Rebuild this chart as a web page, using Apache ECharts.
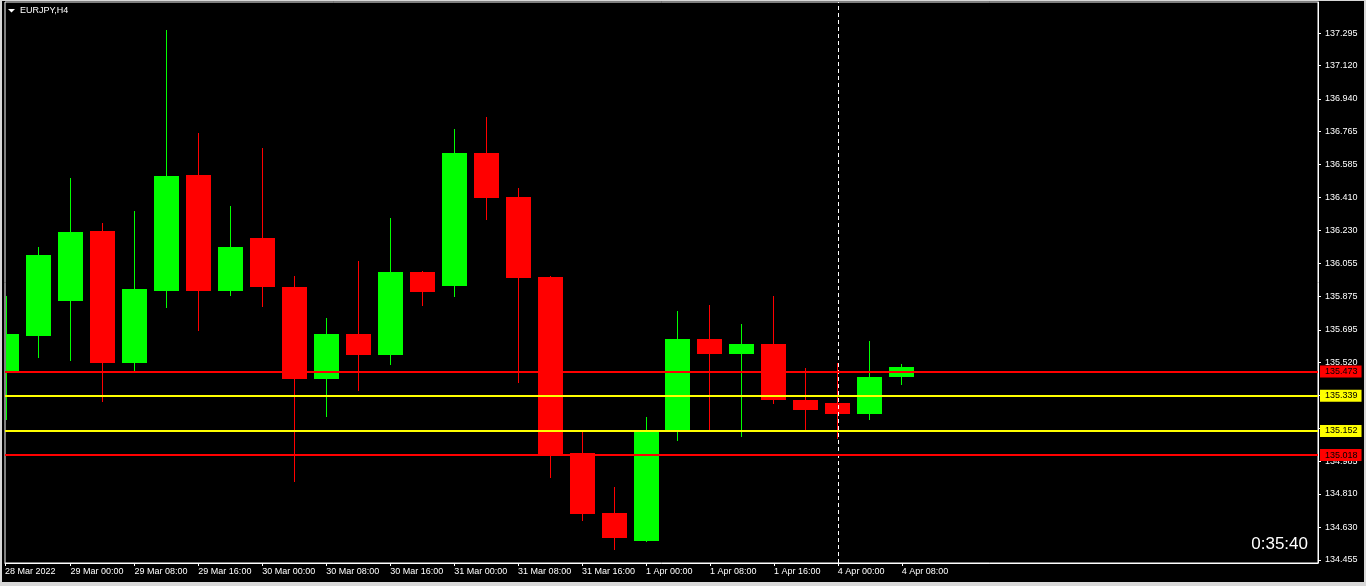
<!DOCTYPE html>
<html><head><meta charset="utf-8">
<script src="https://cdn.jsdelivr.net/npm/echarts@6/dist/echarts.min.js"></script>
<style>
html,body{margin:0;padding:0;width:1366px;height:586px;background:#d8d8d8;overflow:hidden}
#chart{position:absolute;left:2px;top:1px;width:1362px;height:581px;background:#000}
</style></head><body><div id="chart"></div>
<script>
// ---- data ----
const symbolName = 'EURJPY,H4';
const times = ['28 Mar 16:00','28 Mar 20:00',
  '29 Mar 00:00','29 Mar 04:00','29 Mar 08:00','29 Mar 12:00','29 Mar 16:00','29 Mar 20:00',
  '30 Mar 00:00','30 Mar 04:00','30 Mar 08:00','30 Mar 12:00','30 Mar 16:00','30 Mar 20:00',
  '31 Mar 00:00','31 Mar 04:00','31 Mar 08:00','31 Mar 12:00','31 Mar 16:00','31 Mar 20:00',
  '1 Apr 00:00','1 Apr 04:00','1 Apr 08:00','1 Apr 12:00','1 Apr 16:00','1 Apr 20:00',
  '4 Apr 00:00','4 Apr 04:00','4 Apr 08:00'];
const opens  = [135.473,135.662,135.850,136.228,135.516,135.904,136.530,135.904,136.190,135.926,
                135.430,135.672,135.559,136.007,135.931,136.648,136.411,135.980,135.031,134.708,
                134.557,135.144,135.646,135.565,135.619,135.317,135.301,135.241,135.441];
const highs  = [135.877,136.142,136.513,136.271,136.336,137.311,136.756,136.363,136.675,135.985,
                135.759,136.066,136.298,136.012,136.778,136.842,136.460,135.985,135.144,134.848,
                135.225,135.797,135.829,135.726,135.877,135.489,135.516,135.635,135.511];
const lows   = [135.209,135.543,135.527,135.306,135.468,135.813,135.689,135.877,135.818,134.875,
                135.225,135.365,135.505,135.823,135.872,136.287,135.408,134.896,134.664,134.508,
                134.551,135.096,135.150,135.117,135.295,135.144,135.106,135.209,135.398];
const closes = [135.673,136.098,136.222,135.516,135.915,136.524,135.904,136.142,135.926,135.430,
                135.672,135.559,136.007,135.899,136.648,136.406,135.974,135.015,134.702,134.573,
                135.150,135.646,135.565,135.619,135.317,135.263,135.241,135.441,135.495];
const xTickIndex = [0,2,4,6,8,10,12,14,16,18,20,22,24,26,28];
const xTickText = ['28 Mar 2022','29 Mar 00:00','29 Mar 08:00','29 Mar 16:00','30 Mar 00:00',
  '30 Mar 08:00','30 Mar 16:00','31 Mar 00:00','31 Mar 08:00','31 Mar 16:00','1 Apr 00:00',
  '1 Apr 08:00','1 Apr 16:00','4 Apr 00:00','4 Apr 08:00'];
const yTickValues = [137.295,137.120,136.940,136.765,136.585,136.410,136.230,136.055,135.875,
  135.695,135.520,135.340,135.165,134.985,134.810,134.630,134.455];
const redLevels = [135.473, 135.018];
const yellowLevels = [135.339, 135.152];
const separatorIndex = 26;
const timerText = '0:35:40';
const priceMin = 134.4380, priceMax = 137.4622;
const slotsVisible = 41.0625;

// ---- chart ----
const FONT = 'Liberation Sans';
const xMin = -1.5/32, xMax = xMin + slotsVisible;
const candles = opens.map((o,i)=>[i,o,closes[i],lows[i],highs[i]]);
const bid = closes[closes.length-1];

function renderItem(params, api){
  const i = api.value(0), o = api.value(1), c = api.value(2), l = api.value(3), h = api.value(4);
  const pO = api.coord([i,o]), pC = api.coord([i,c]), pL = api.coord([i,l]), pH = api.coord([i,h]);
  const cs = params.coordSys;
  const leftEdge = cs.x + 1, rightEdge = cs.x + cs.width;
  const px = Math.floor(pO[0]);
  const color = c >= o ? '#00ff00' : '#ff0000';
  const yTop = Math.round(Math.min(pO[1], pC[1])), yBot = Math.round(Math.max(pO[1], pC[1]));
  const x0 = Math.max(px - 12, leftEdge), x1 = Math.min(px + 13, rightEdge);
  const children = [];
  if (px >= leftEdge && px < rightEdge) {
    children.push({type:'line', shape:{x1:px+0.5,y1:Math.round(pH[1]),x2:px+0.5,y2:Math.round(pL[1])},
      style:{stroke:color,lineWidth:1}});
  }
  if (x1 > x0) {
    children.push({type:'rect', shape:{x:x0, y:yTop, width:x1-x0, height:Math.max(1,yBot-yTop)},
      style:{fill:color}});
  }
  return {type:'group', children:children};
}

function levelItem(v, color, textColor){
  return {yAxis:v, lineStyle:{color:color,width:2,type:'solid'},
    label:{show:true, position:'end', distance:2, formatter:()=>v.toFixed(3),
      backgroundColor:color, color:textColor, fontFamily:FONT, fontSize:9,
      padding:[2,4,1,5], lineHeight:9}};
}

const chart = echarts.init(document.getElementById('chart'), null, {renderer:'canvas'});
chart.setOption({
  animation:false,
  backgroundColor:'#000',
  grid:{left:2, top:1, right:46, bottom:19, show:true, borderColor:'#fff', borderWidth:1, backgroundColor:'transparent'},
  xAxis:{type:'value', min:xMin, max:xMax, position:'bottom',
    axisLine:{show:true, onZero:false, lineStyle:{color:'#fff', width:1}},
    axisTick:{show:true, length:3, lineStyle:{color:'#fff'}, customValues:[xMin].concat(xTickIndex.slice(1))},
    axisLabel:{show:true, color:'#fff', fontFamily:FONT, fontSize:9, align:'left', margin:4,
      customValues:[xMin].concat(xTickIndex.slice(1)),
      formatter:v=>{const k = xTickIndex.indexOf(Math.max(0,Math.round(v))); return k>=0 ? xTickText[k] : '';}},
    splitLine:{show:false}},
  yAxis:{type:'value', min:priceMin, max:priceMax, position:'right',
    axisLine:{show:true, onZero:false, lineStyle:{color:'#fff'}},
    axisTick:{show:true, length:3, lineStyle:{color:'#fff'}, customValues:yTickValues},
    axisLabel:{show:true, color:'#fff', fontFamily:FONT, fontSize:9, margin:7, align:'left',
      customValues:yTickValues, formatter:v=>v.toFixed(3)},
    splitLine:{show:false}},
  series:[
    {type:'custom', name:symbolName, renderItem:renderItem, data:candles, clip:false,
      encode:{x:0, y:[1,2,3,4]}, xAxisIndex:0, yAxisIndex:0, z:2, silent:true},
    {type:'line', data:[], xAxisIndex:0, yAxisIndex:0, z:5, silent:true,
      markLine:{symbol:['none','none'], silent:true, animation:false,
        data:[
          {xAxis:separatorIndex, lineStyle:{color:'#fff', width:1, type:[4,3]}, label:{show:false}},
          {yAxis:bid, lineStyle:{opacity:0}, label:{show:true, position:'end', distance:2,
            formatter:()=>bid.toFixed(3), backgroundColor:'#000', borderColor:'#fff', borderWidth:1,
            color:'#fff', fontFamily:FONT, fontSize:9, padding:[2,4,1,5], lineHeight:9}},
          levelItem(yellowLevels[0], '#ffff00', '#000'),
          levelItem(yellowLevels[1], '#ffff00', '#000'),
          levelItem(redLevels[0], '#ff0000', '#000'),
          levelItem(redLevels[1], '#ff0000', '#000')
        ]}}
  ],
  graphic:[
    {type:'polygon', shape:{points:[[6,8],[13,8],[9.5,11.5]]}, style:{fill:'#fff'}, z:20},
    {type:'text', x:18, y:10, style:{text:symbolName, fill:'#fff', font:'9px "Liberation Sans"', textVerticalAlign:'middle'}, z:20},
    {type:'text', x:1306, y:543, style:{text:timerText, fill:'#fff', font:'17px "Liberation Sans"', textAlign:'right', textVerticalAlign:'middle'}, z:20}
  ]
});
</script></body></html>
